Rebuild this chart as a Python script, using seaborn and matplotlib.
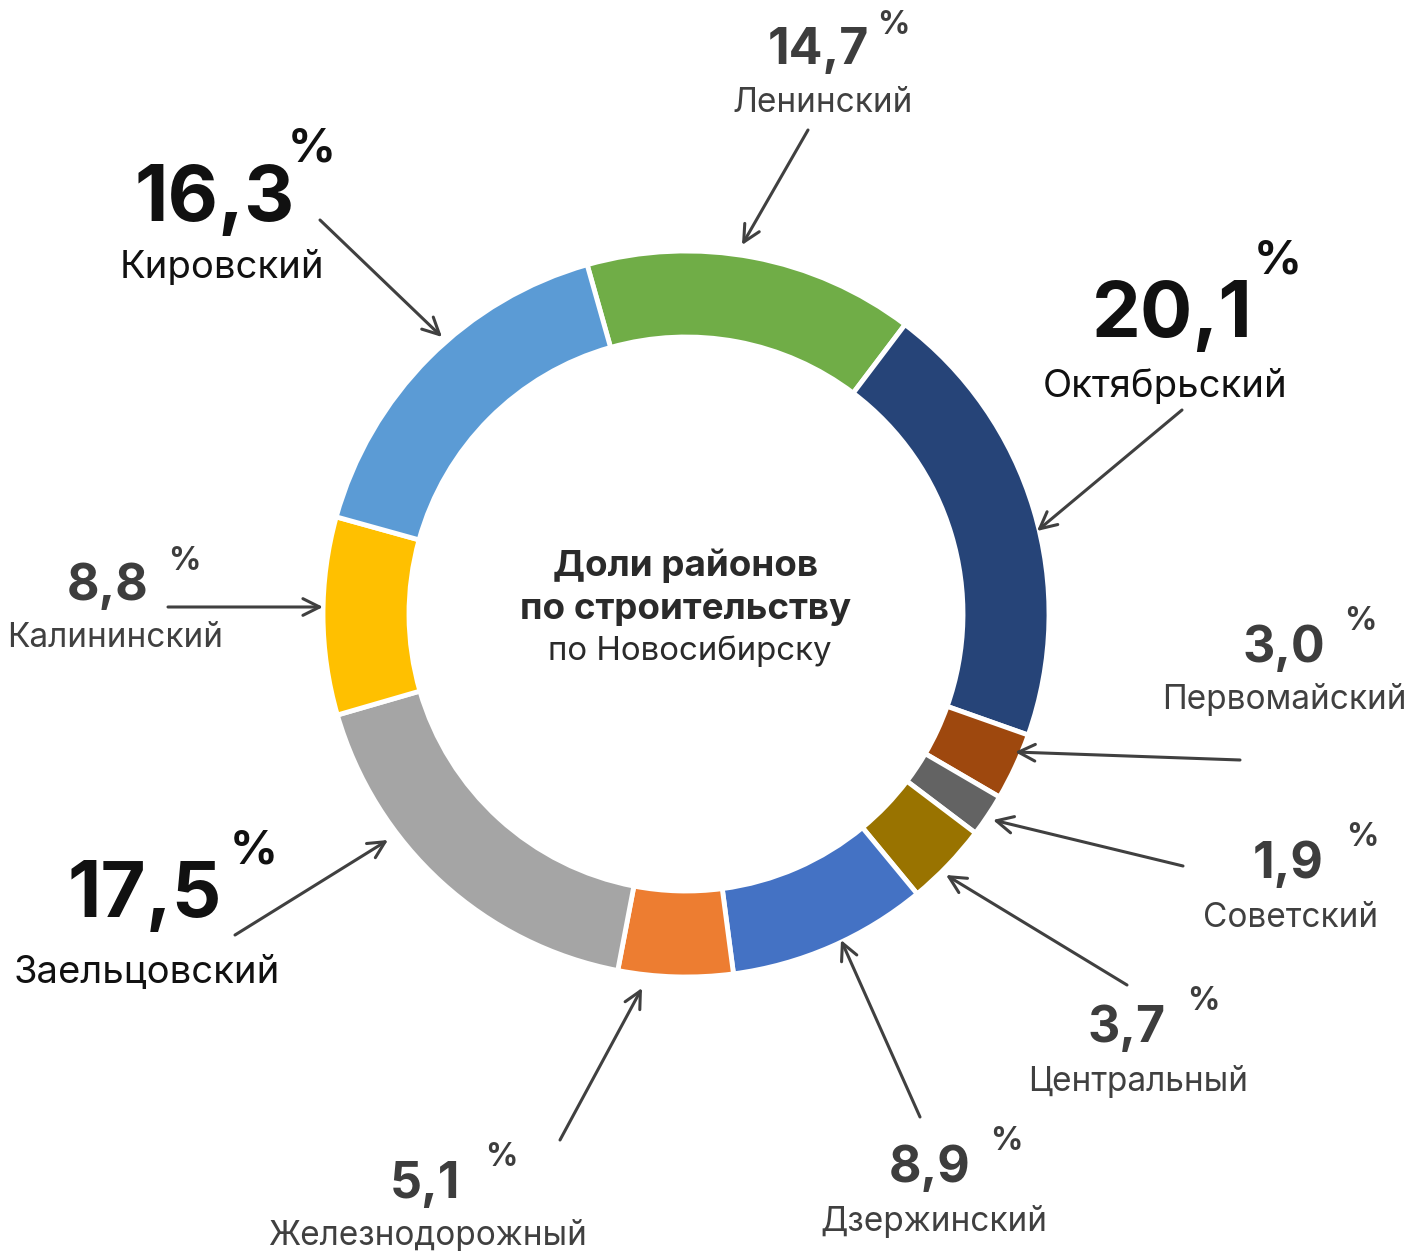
import matplotlib
matplotlib.use("Agg")
import matplotlib.pyplot as plt
import seaborn as sns

sns.set_theme(style="white")
plt.rcParams["font.family"] = ["Inter", "DejaVu Sans"]

# District shares of housing construction, clockwise from the top
districts = ["Ленинский", "Октябрьский", "Первомайский", "Советский", "Центральный",
             "Дзержинский", "Железнодорожный", "Заельцовский", "Калининский", "Кировский"]
shares = [14.7, 20.1, 3.0, 1.9, 3.7, 8.9, 5.1, 17.5, 8.8, 16.3]
value_labels = ["14,7", "20,1", "3,0", "1,9", "3,7", "8,9", "5,1", "17,5", "8,8", "16,3"]
colors = ["#70AD47", "#264478", "#9E480E", "#636363", "#997300",
          "#4472C4", "#ED7D31", "#A5A5A5", "#FFC000", "#5B9BD5"]

W, H = 1410, 1251
fig = plt.figure(figsize=(W / 100, H / 100), dpi=100)
ax = fig.add_axes([0, 0, 1, 1])

cx, cy, r_out, ring = 686, 614, 363, 86
ax.pie(shares, colors=sns.color_palette(colors), startangle=-105.8, counterclock=True,
       center=(cx, cy), radius=r_out,
       wedgeprops=dict(width=ring, edgecolor="white", linewidth=3.5))
ax.set_xlim(0, W)
ax.set_ylim(H, 0)
ax.set_aspect("equal")
ax.axis("off")

# label layout: value position, % position, name position, arrow tail, arrow head, big?
layout = {
    "Ленинский":       ((818, 50),   (893, 25),   (823, 103),  (808, 130),  (742, 245),  False),
    "Октябрьский":     ((1172, 316), (1278, 262), (1165, 387), (1182, 410), (1037, 531), True),
    "Первомайский":    ((1284, 648), (1360, 622), (1284, 700), (1240, 760), (1015, 752), False),
    "Советский":       ((1288, 864), (1362, 838), (1291, 918), (1183, 866), (993, 820),  False),
    "Центральный":     ((1127, 1028), (1203, 1002), (1138, 1081), (1127, 985), (946, 875), False),
    "Дзержинский":     ((930, 1168), (1006, 1142), (934, 1222), (920, 1117), (841, 940),  False),
    "Железнодорожный": ((425, 1184), (501, 1158), (427, 1235), (560, 1140), (642, 988),  False),
    "Заельцовский":    ((145, 896),  (254, 852),  (147, 973),  (235, 935),  (388, 840),  True),
    "Калининский":     ((108, 586),  (184, 562),  (115, 638),  (168, 607),  (323, 607),  False),
    "Кировский":       ((215, 201),  (312, 150),  (222, 268),  (320, 220),  (442, 337),  True),
}

for name, val in zip(districts, value_labels):
    vpos, ppos, npos, tail, head, big = layout[name]
    num_color = "#111111" if big else "#3d3d3d"
    name_color = "#111111" if big else "#404040"
    ax.text(*vpos, val, ha="center", va="center", fontsize=56 if big else 36,
            fontweight="bold", color=num_color)
    ax.text(*ppos, "%", ha="center", va="center", fontsize=34 if big else 23,
            fontweight="bold", color=num_color)
    ax.text(*npos, name, ha="center", va="center", fontsize=27.5 if big else 24,
            color=name_color)
    ax.annotate("", xy=head, xytext=tail,
                arrowprops=dict(arrowstyle="->,head_length=1.0,head_width=0.5",
                                color="#404040", lw=2.2, shrinkA=0, shrinkB=0))

# centre caption
ax.text(686, 566, "Доли районов", ha="center", va="center", fontsize=26.5,
        fontweight="bold", color="#2a2a2a")
ax.text(686, 610, "по строительству", ha="center", va="center", fontsize=26.5,
        fontweight="bold", color="#2a2a2a")
ax.text(690, 651, "по Новосибирску", ha="center", va="center", fontsize=23.8,
        color="#2a2a2a")

fig.savefig("out.png", dpi=100)
